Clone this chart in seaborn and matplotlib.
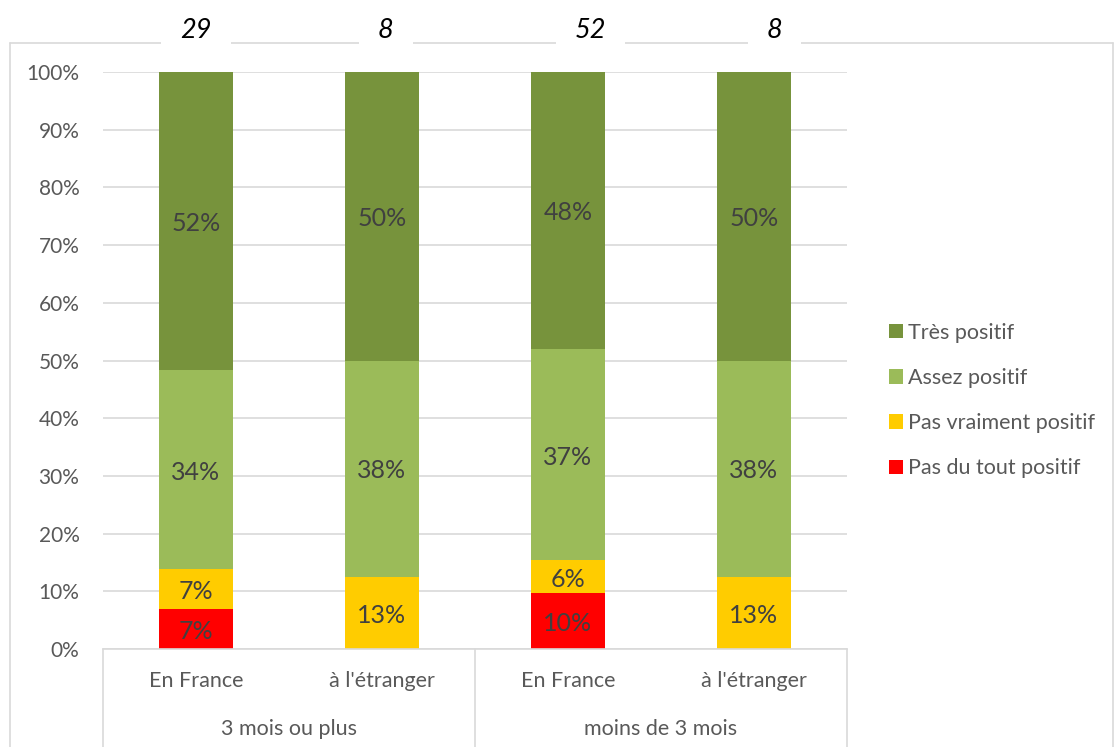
import numpy as np
import pandas as pd
import matplotlib
matplotlib.use("Agg")
import matplotlib.pyplot as plt
import seaborn as sns
from matplotlib.transforms import blended_transform_factory
from matplotlib.lines import Line2D

# ---- data ----
durees = ["3 mois ou plus", "3 mois ou plus", "moins de 3 mois", "moins de 3 mois"]
lieux = ["En France", "à l'étranger", "En France", "à l'étranger"]
effectifs = [29, 8, 52, 8]
reponses = ["Très positif", "Assez positif", "Pas vraiment positif", "Pas du tout positif"]
tres_positif = [51.72, 50.0, 48.08, 50.0]
assez_positif = [34.48, 37.5, 36.54, 37.5]
pas_vraiment_positif = [6.90, 12.5, 5.77, 12.5]
pas_du_tout_positif = [6.90, 0.0, 9.62, 0.0]
groupes = ["3 mois ou plus", "moins de 3 mois"]
y_ticks = [0, 10, 20, 30, 40, 50, 60, 70, 80, 90, 100]

couleurs = {"Très positif": "#77933C", "Assez positif": "#9BBB59",
            "Pas vraiment positif": "#FFCC00", "Pas du tout positif": "#FF0000"}

valeurs = {"Très positif": tres_positif, "Assez positif": assez_positif,
           "Pas vraiment positif": pas_vraiment_positif, "Pas du tout positif": pas_du_tout_positif}

cles = [f"{d} | {l}" for d, l in zip(durees, lieux)]

# long table with cumulative tops (stacked from bottom: Pas du tout -> Très)
ordre_bas_haut = ["Pas du tout positif", "Pas vraiment positif", "Assez positif", "Très positif"]
rows = []
cum = np.zeros(len(cles))
for rep in ordre_bas_haut:
    v = np.array(valeurs[rep])
    for i, k in enumerate(cles):
        rows.append({"cle": k, "reponse": rep, "valeur": v[i], "bas": cum[i], "cumul": cum[i] + v[i]})
    cum = cum + v
df = pd.DataFrame(rows)

# ---- style ----
sns.set_style("white")
plt.rcParams["font.family"] = ["Lato", "DejaVu Sans"]

fig = plt.figure(figsize=(11.14, 7.47), dpi=100)
ax = fig.add_axes([103 / 1114, 1 - 649 / 747, (847 - 103) / 1114, (649 - 72) / 747])

# draw layers from the tallest cumulative to the smallest so they stack visually
for rep in reponses:
    sub = df[df["reponse"] == rep]
    sns.barplot(data=sub, x="cle", y="cumul", order=cles, color=couleurs[rep],
                width=0.4, saturation=1, errorbar=None, label=rep, ax=ax, zorder=2,
                linewidth=0)

# segment labels
for _, r in df.iterrows():
    if r["valeur"] > 0:
        i = cles.index(r["cle"])
        txt = f"{int(np.floor(r['valeur'] + 0.5))}%"
        ax.text(i, r["bas"] + r["valeur"] / 2 - 0.4, txt, ha="center", va="center",
                fontsize=18, color="#404040", zorder=5)

ax.set_ylim(0, 100)
ax.set_xlim(-0.5, 3.5)
ax.set_yticks(y_ticks)
ax.set_yticklabels([f"{t}%" for t in y_ticks], fontsize=15, color="#595959")
ax.set_xticks(range(len(cles)))
ax.set_xticklabels(lieux, fontsize=15.5, color="#595959")
ax.tick_params(axis="y", length=0, pad=17)
ax.tick_params(axis="x", length=0, pad=16)
ax.set_xlabel("")
ax.set_ylabel("")
ax.yaxis.grid(True, color="#D9D9D9", lw=1.2)
ax.set_axisbelow(True)
for s in ["top", "right", "left"]:
    ax.spines[s].set_visible(False)
ax.spines["bottom"].set_color("#D9D9D9")
ax.spines["bottom"].set_linewidth(1.2)

# group labels and separators
trans_x = blended_transform_factory(ax.transData, ax.transAxes)
for j, g in enumerate(groupes):
    ax.text(2 * j + 0.5, -0.138, g, transform=trans_x, ha="center", va="center",
            fontsize=15.5, color="#595959", clip_on=False)
for xs in [-0.5, 1.5, 3.5]:
    ax.add_line(Line2D([xs, xs], [0, -0.2], transform=trans_x, color="#D9D9D9",
                       lw=1.2, clip_on=False, zorder=1))

# outer chart border (light gray)
bx0, bx1, by = 10 / 1114, 1113 / 1114, 1 - 42.7 / 747
for xs, ys in [([bx0, bx1], [by, by]), ([bx0, bx0], [by, 0]), ([bx1, bx1], [by, 0])]:
    ax.add_line(Line2D(xs, ys, transform=fig.transFigure, color="#D9D9D9",
                       lw=1.2, clip_on=False, zorder=0.5))

# sample sizes above bars
trans_top = blended_transform_factory(ax.transData, fig.transFigure)
decal = [0.0, 0.02, 0.12, 0.11]
for i, n in enumerate(effectifs):
    ax.text(i + decal[i], 1 - 30 / 747, str(n), transform=trans_top, ha="center",
            va="center", fontsize=19.5, fontstyle="italic", color="#000000",
            clip_on=False, zorder=10,
            bbox=dict(boxstyle="square,pad=0.7", facecolor="white", edgecolor="none"))

# legend
leg = ax.legend(loc="center left", bbox_to_anchor=(889 / 1114, 1 - 400.5 / 747),
                bbox_transform=fig.transFigure, frameon=False, fontsize=15.5,
                handlelength=0.65, handleheight=0.65, handletextpad=0.25,
                labelspacing=1.17, borderpad=0, borderaxespad=0)
for t in leg.get_texts():
    t.set_color("#595959")

fig.savefig("out.png", dpi=100)
